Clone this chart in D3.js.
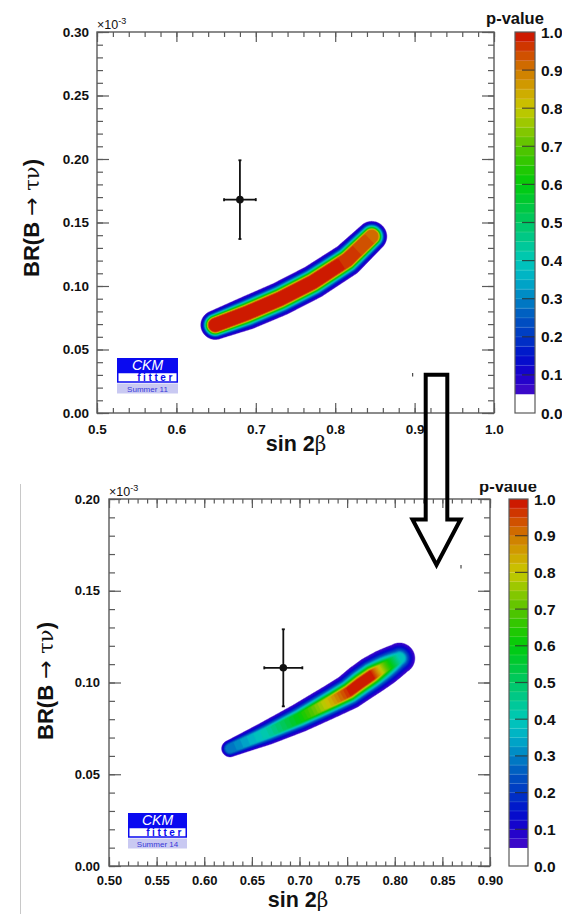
<!DOCTYPE html>
<html>
<head>
<meta charset="utf-8">
<script src="https://d3js.org/d3.v7.min.js"></script>
<style>
  body { margin: 0; background: #fff; overflow: hidden; }
</style>
</head>
<body>
<div id="chart"></div>
<script>
//p-value colour palette
var paletteStops  = [0.05, 0.10, 0.15, 0.20, 0.25, 0.30, 0.35, 0.40, 0.45, 0.50,
                     0.55, 0.60, 0.65, 0.70, 0.75, 0.80, 0.85, 0.90, 0.95, 1.00];
var paletteColors = ["#440cc8", "#1a00cc", "#0010cc", "#0038c4", "#0054c0", "#0082c4", "#00aec8", "#00c8b8", "#00c890", "#00c864",
                     "#00c838", "#00cc0c", "#28c800", "#58c400", "#90c800", "#c8c800", "#d0a400", "#d07800", "#d04400", "#cc0c00"];
var colorbarTicks = [0.0, 0.1, 0.2, 0.3, 0.4, 0.5, 0.6, 0.7, 0.8, 0.9, 1.0];

//Summer 11 fit: ridge of the allowed band (sin 2beta, BR in 1e-3),
//peak p-value along it and half width where p falls to 0.05 (BR units)
var ridge11X = [0.649, 0.689, 0.7305, 0.772, 0.815, 0.846];
var ridge11Y = [0.0693, 0.0787, 0.0898, 0.1031, 0.1205, 0.139];
var ridge11P = [1.00, 1.00, 1.00, 1.00, 0.97, 0.92];
var ridge11W = [0.0114, 0.0130, 0.0132, 0.0132, 0.0130, 0.0120];
var ridge11Core = 0.0050;  //half width of the p = 1 plateau
//Summer 11 direct measurement
var meas11X = 0.680, meas11XErr = 0.020;
var meas11Y = 0.168, meas11YErr = 0.031;
var ticks11X = [0.5, 0.6, 0.7, 0.8, 0.9, 1.0];
var ticks11Y = [0.00, 0.05, 0.10, 0.15, 0.20, 0.25, 0.30];

//Summer 14 fit
var ridge14X = [0.627, 0.666, 0.700, 0.735, 0.752, 0.764, 0.776, 0.790, 0.805];
var ridge14Y = [0.0640, 0.0725, 0.0807, 0.0902, 0.0950, 0.0997, 0.1040, 0.1085, 0.1132];
var ridge14P = [0.28, 0.42, 0.60, 0.85, 0.98, 1.00, 0.99, 0.70, 0.40];
var ridge14W = [0.0055, 0.0075, 0.0085, 0.0092, 0.0096, 0.0100, 0.0102, 0.0104, 0.0100];
var ridge14Core = 0.0024;
var meas14X = 0.683, meas14XErr = 0.020;
var meas14Y = 0.108, meas14YErr = 0.021;
var ticks14X = [0.50, 0.55, 0.60, 0.65, 0.70, 0.75, 0.80, 0.85, 0.90];
var ticks14Y = [0.00, 0.05, 0.10, 0.15, 0.20];

//Contour levels: white below 0.05, then one band every 0.025
var pLevels = d3.range(0.05, 0.999, 0.025);
var bandScale = d3.scaleLinear().domain(paletteStops).range(paletteColors).clamp(true);
function bandColor(v) { return bandScale(v + 0.0125); }

var W = 562, H = 914;
var svg = d3.select("#chart").append("svg")
  .attr("width", W).attr("height", H)
  .attr("font-family", "'Liberation Sans', Arial, sans-serif")
  .attr("font-weight", "bold")
  .attr("fill", "#111");
var defs = svg.append("defs");
var axisCol = "#5a5a5a";

//Complementary error function (Abramowitz & Stegun 7.1.26)
function erfc(x) {
  var t = 1 / (1 + 0.3275911 * x);
  return t * (0.254829592 + t * (-0.284496736 + t * (1.421413741 + t * (-1.453152027 + t * 1.061405429)))) * Math.exp(-x * x);
}

//p-value at pixel (px,py): peak along the ridge, gaussian tail outside the plateau
function pValue(px, py, ridge, peaks, widths, core) {
  var best = Infinity, bestPeak = 0, bestW = 1;
  for (var k = 0; k < ridge.length - 1; k++) {
    var ax = ridge[k][0], ay = ridge[k][1];
    var dx = ridge[k+1][0] - ax, dy = ridge[k+1][1] - ay;
    var t = ((px - ax) * dx + (py - ay) * dy) / (dx * dx + dy * dy);
    t = Math.max(0, Math.min(1, t));
    var d = Math.hypot(px - ax - t * dx, py - ay - t * dy);
    if (d < best) {
      best = d;
      bestPeak = peaks[k] + t * (peaks[k+1] - peaks[k]);
      bestW = widths[k] + t * (widths[k+1] - widths[k]);
    }
  }
  var u = Math.max(0, best - core) / Math.max(1, bestW - core);
  return bestPeak * erfc(1.96 * u / Math.SQRT2);
}

function drawPanel(p) {
  var x = d3.scaleLinear().domain([p.xTicks[0], p.xTicks[p.xTicks.length-1]]).range([p.left, p.right]);
  var y = d3.scaleLinear().domain([p.yTicks[0], p.yTicks[p.yTicks.length-1]]).range([p.bottom, p.top]);
  var g = svg.append("g");
  var bw = function(v) { return y(0) - y(v); };

  //Sample the p-value field on a 1px grid and contour it
  var nx = Math.round(p.right - p.left), ny = Math.round(p.bottom - p.top);
  var ridge = p.ridgeX.map(function(v, i) { return [x(v), y(p.ridgeY[i])]; });
  var widths = p.ridgeW.map(bw);
  var core = bw(p.core);
  var values = new Float64Array(nx * ny);
  for (var j = 0; j < ny; j++) {
    for (var i = 0; i < nx; i++) {
      values[i + j * nx] = pValue(p.left + i + 0.5, p.top + j + 0.5, ridge, p.ridgeP, widths, core);
    }
  }
  var contours = d3.contours().size([nx, ny]).thresholds(pLevels)(values);
  var path = d3.geoPath(d3.geoIdentity().translate([p.left, p.top]));
  g.append("g").selectAll("path")
    .data(contours)
    .enter()
    .append("path")
    .attr("d", path)
    .attr("fill", function(d) { return bandColor(d.value); })
    .attr("stroke", function(d) { return bandColor(d.value); })
    .attr("stroke-width", 0.4);

  //Measurement with error bars
  var eb = g.append("g").attr("stroke", "#111").attr("stroke-width", 1.8);
  eb.append("line").attr("x1", x(p.mX - p.mXErr)).attr("x2", x(p.mX + p.mXErr)).attr("y1", y(p.mY)).attr("y2", y(p.mY));
  eb.append("line").attr("x1", x(p.mX)).attr("x2", x(p.mX)).attr("y1", y(p.mY - p.mYErr)).attr("y2", y(p.mY + p.mYErr));
  [p.mX - p.mXErr, p.mX + p.mXErr].forEach(function(v) {
    eb.append("line").attr("x1", x(v)).attr("x2", x(v)).attr("y1", y(p.mY) - 1.5).attr("y2", y(p.mY) + 1.5);
  });
  [p.mY - p.mYErr, p.mY + p.mYErr].forEach(function(v) {
    eb.append("line").attr("x1", x(p.mX) - 1.5).attr("x2", x(p.mX) + 1.5).attr("y1", y(v)).attr("y2", y(v));
  });
  g.append("circle").attr("cx", x(p.mX)).attr("cy", y(p.mY)).attr("r", 3.8).attr("fill", "#111");

  //Frame and ticks (ROOT style, ticks inside on all four sides)
  var step = p.xTicks[1] - p.xTicks[0];
  var xMinor = x.ticks(Math.round((x.domain()[1] - x.domain()[0]) / (step / 5)));
  var yMinor = y.ticks(Math.round((y.domain()[1] - y.domain()[0]) / 0.01));
  var axes = [
    [d3.axisBottom(x).tickValues(p.xTicks).tickSize(-p.xMajor).tickPadding(p.xPad).tickFormat(d3.format(p.xFmt)), 0, p.bottom, true],
    [d3.axisBottom(x).tickValues(xMinor).tickSize(-p.xMajor / 2).tickFormat(""), 0, p.bottom, false],
    [d3.axisTop(x).tickValues(p.xTicks).tickSize(-p.xMajor).tickFormat(""), 0, p.top, false],
    [d3.axisTop(x).tickValues(xMinor).tickSize(-p.xMajor / 2).tickFormat(""), 0, p.top, false],
    [d3.axisLeft(y).tickValues(p.yTicks).tickSize(-p.yMajor).tickPadding(p.yPad).tickFormat(d3.format(".2f")), p.left, 0, true],
    [d3.axisLeft(y).tickValues(yMinor).tickSize(-p.yMajor / 2).tickFormat(""), p.left, 0, false],
    [d3.axisRight(y).tickValues(p.yTicks).tickSize(-p.yMajor).tickFormat(""), p.right, 0, false],
    [d3.axisRight(y).tickValues(yMinor).tickSize(-p.yMajor / 2).tickFormat(""), p.right, 0, false]
  ];
  axes.forEach(function(a) {
    var ag = g.append("g").attr("transform", "translate(" + a[1] + "," + a[2] + ")").call(a[0].tickSizeOuter(0));
    ag.select(".domain").remove();
    ag.selectAll("line").attr("stroke", axisCol).attr("stroke-width", 1.2);
    ag.attr("font-family", null).attr("font-size", null);
    if (a[3]) ag.selectAll("text").attr("font-size", p.tickFont).attr("fill", "#111");
  });
  g.append("rect")
    .attr("x", p.left).attr("y", p.top)
    .attr("width", p.right - p.left).attr("height", p.bottom - p.top)
    .attr("fill", "none").attr("stroke", axisCol).attr("stroke-width", 1.4);

  //Exponent label
  var ex = g.append("text").attr("x", p.left).attr("y", p.top - 3).attr("font-size", 12.5).attr("font-weight", "normal");
  ex.append("tspan").text("\u00d710");
  ex.append("tspan").attr("dy", -5).attr("font-size", 9).text("-3");

  //Axis titles
  var xt = g.append("text").attr("x", p.xTitleX).attr("y", p.xTitleY).attr("text-anchor", "middle").attr("font-size", 21.5);
  xt.append("tspan").text("sin 2");
  xt.append("tspan").attr("font-weight", "normal").attr("font-family", "'DejaVu Serif', serif").attr("font-size", 20).text("\u03b2");
  var yt = g.append("text")
    .attr("transform", "translate(" + p.yTitleX + "," + p.yTitleY + ") rotate(-90)")
    .attr("text-anchor", "middle").attr("font-size", 22);
  yt.append("tspan").text("BR(B ");
  yt.append("tspan").attr("font-weight", "normal").attr("font-family", "'DejaVu Sans', sans-serif").text("\u2192");
  yt.append("tspan").attr("font-weight", "normal").attr("font-family", "'DejaVu Serif', serif").attr("font-size", 21).text(" \u03c4\u03bd");
  yt.append("tspan").text(")");

  //Colour bar
  var cy = d3.scaleLinear().domain([0, 1]).range([p.bottom, p.top]);
  var cb = g.append("g");
  cb.selectAll("rect.band")
    .data(pLevels)
    .enter()
    .append("rect")
    .attr("x", p.cbLeft).attr("width", p.cbRight - p.cbLeft)
    .attr("y", function(d) { return cy(Math.min(1, d + 0.025)); })
    .attr("height", function(d) { return cy(d) - cy(Math.min(1, d + 0.025)) + 0.3; })
    .attr("fill", function(d) { return bandColor(d); });
  cb.selectAll("line.sep")
    .data(pLevels.slice(1))
    .enter()
    .append("line")
    .attr("x1", p.cbLeft).attr("x2", p.cbRight)
    .attr("y1", function(d) { return cy(d); }).attr("y2", function(d) { return cy(d); })
    .attr("stroke", "#fff").attr("stroke-opacity", 0.18).attr("stroke-width", 0.8);
  cb.selectAll("line.tick")
    .data(colorbarTicks.slice(1, -1))
    .enter()
    .append("line")
    .attr("x1", p.cbRight - 13).attr("x2", p.cbRight)
    .attr("y1", function(d) { return cy(d); }).attr("y2", function(d) { return cy(d); })
    .attr("stroke", "#222").attr("stroke-opacity", 0.75).attr("stroke-width", 1.2);
  cb.append("rect")
    .attr("x", p.cbLeft).attr("y", p.top)
    .attr("width", p.cbRight - p.cbLeft).attr("height", p.bottom - p.top)
    .attr("fill", "none").attr("stroke", axisCol).attr("stroke-width", 1.2);
  cb.selectAll("text.cbl")
    .data(colorbarTicks)
    .enter()
    .append("text")
    .attr("x", p.cbRight + 6).attr("y", function(d) { return cy(d); })
    .attr("dy", "0.36em").attr("font-size", 15.5)
    .text(d3.format(".1f"));
  var pv = g.append("text")
    .attr("x", p.pvX).attr("y", p.pvY)
    .attr("text-anchor", "middle").attr("font-size", 16.5)
    .text("p-value");
  if (p.clipTop) {
    defs.append("clipPath").attr("id", "clip" + p.name)
      .append("rect").attr("x", 0).attr("y", p.clipTop).attr("width", W).attr("height", H - p.clipTop);
    pv.attr("clip-path", "url(#clip" + p.name + ")");
  }

  //CKMfitter logo
  var lg = g.append("g").attr("transform", "translate(" + p.logoX + "," + p.logoY + ")");
  lg.append("rect").attr("width", p.logoW).attr("height", 14).attr("fill", "#0a0af0");
  lg.append("text").attr("x", p.logoW / 2).attr("y", 12).attr("text-anchor", "middle")
    .attr("font-size", 14).attr("font-style", "italic").attr("font-weight", "normal").attr("fill", "#fff").text("CKM");
  lg.append("rect").attr("x", 0.75).attr("y", 14.5).attr("width", p.logoW - 1.5).attr("height", 9.5)
    .attr("fill", "#fff").attr("stroke", "#0a0af0").attr("stroke-width", 1.5);
  lg.append("text").attr("x", p.logoW - 3).attr("y", 23).attr("text-anchor", "end")
    .attr("font-size", 10).attr("letter-spacing", 2.6).attr("fill", "#0a0af0").text("fitter");
  lg.append("rect").attr("y", 25.5).attr("width", p.logoW).attr("height", 10).attr("fill", "#c9c9f2");
  lg.append("text").attr("x", p.logoW / 2).attr("y", 33.5).attr("text-anchor", "middle")
    .attr("font-size", 8).attr("font-weight", "normal").attr("fill", "#3838d8").text(p.season);
}

drawPanel({
  name: "s11", season: "Summer 11",
  left: 97, right: 494, top: 32, bottom: 413,
  xTicks: ticks11X, yTicks: ticks11Y, xFmt: ".1f",
  ridgeX: ridge11X, ridgeY: ridge11Y, ridgeP: ridge11P, ridgeW: ridge11W, core: ridge11Core,
  mX: meas11X, mXErr: meas11XErr, mY: meas11Y, mYErr: meas11YErr,
  xMajor: 10, yMajor: 12, xPad: 11, yPad: 8, tickFont: 13.5,
  xTitleX: 296, xTitleY: 451, yTitleX: 39, yTitleY: 218,
  cbLeft: 515, cbRight: 535, pvX: 515, pvY: 24,
  logoX: 117, logoY: 358, logoW: 61
});

drawPanel({
  name: "s14", season: "Summer 14",
  left: 109, right: 490, top: 499, bottom: 866,
  xTicks: ticks14X, yTicks: ticks14Y, xFmt: ".2f",
  ridgeX: ridge14X, ridgeY: ridge14Y, ridgeP: ridge14P, ridgeW: ridge14W, core: ridge14Core,
  mX: meas14X, mXErr: meas14XErr, mY: meas14Y, mYErr: meas14YErr,
  xMajor: 9, yMajor: 12, xPad: 10, yPad: 9, tickFont: 13,
  xTitleX: 298, xTitleY: 907, yTitleX: 53, yTitleY: 681,
  cbLeft: 509, cbRight: 528, pvX: 508, pvY: 492, clipTop: 484,
  logoX: 128, logoY: 813, logoW: 59
});

//Left border of the pasted lower picture
svg.append("line").attr("x1", 20.5).attr("x2", 20.5).attr("y1", 484).attr("y2", H)
  .attr("stroke", "#c8c8c8").attr("stroke-width", 1);

//Stray marks left over from the original figures
svg.append("line").attr("x1", 412.7).attr("x2", 412.7).attr("y1", 373).attr("y2", 376.5).attr("stroke", "#222").attr("stroke-width", 1);
svg.append("line").attr("x1", 461).attr("x2", 461).attr("y1", 565).attr("y2", 568.5).attr("stroke", "#222").attr("stroke-width", 1);

//Hollow arrow from the old plot to the new one
svg.append("path")
  .attr("d", "M425.7,374.7 L447.3,374.7 L447.3,519.5 L460.5,519.5 L436.5,565 L412.5,519.5 L425.7,519.5 Z")
  .attr("fill", "none").attr("stroke", "#000").attr("stroke-width", 4).attr("stroke-linejoin", "miter");
</script>
</body>
</html>
